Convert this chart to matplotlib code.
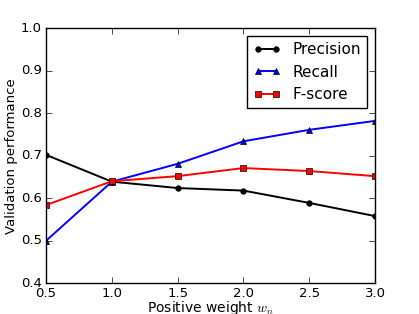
import matplotlib
matplotlib.use("Agg")
import matplotlib.pyplot as plt

plt.style.use('classic')
plt.rcParams['font.family'] = ['DejaVu Sans']
plt.rcParams['font.size'] = 10

weights = [0.5, 1.0, 1.5, 2.0, 2.5, 3.0]
precision = [0.702, 0.639, 0.624, 0.618, 0.589, 0.558]
recall = [0.500, 0.639, 0.681, 0.734, 0.761, 0.782]
fscore = [0.584, 0.640, 0.652, 0.671, 0.664, 0.652]
xticks = [0.5, 1.0, 1.5, 2.0, 2.5, 3.0]
yticks = [0.4, 0.5, 0.6, 0.7, 0.8, 0.9, 1.0]

fig = plt.figure(figsize=(4.19, 3.14), dpi=100, facecolor='white')
ax = fig.add_axes([0.11, 0.098, 0.785, 0.812])
ax.plot(weights, precision, 'k-o', markersize=4, linewidth=1.4, label='Precision')
ax.plot(weights, recall, 'b-^', markersize=4, linewidth=1.4, label='Recall')
ax.plot(weights, fscore, 'r-s', markersize=4, linewidth=1.4, label='F-score')
ax.set_xlim(0.5, 3.0)
ax.set_ylim(0.4, 1.0)
ax.set_xticks(xticks)
ax.set_yticks(yticks)
ax.set_xticklabels(['%.1f' % t for t in xticks])
ax.set_yticklabels(['%.1f' % t for t in yticks])
ax.tick_params(labelsize=9.5, pad=3)
ax.set_xlabel('Positive weight $w_n$', fontsize=10, labelpad=-1)
ax.set_ylabel('Validation performance', fontsize=9.5, labelpad=2)
leg = ax.legend(loc='upper right', fontsize=11, numpoints=2, borderaxespad=0.5,
                handlelength=1.8)
fig.savefig('out.png', dpi=100, facecolor='white')
